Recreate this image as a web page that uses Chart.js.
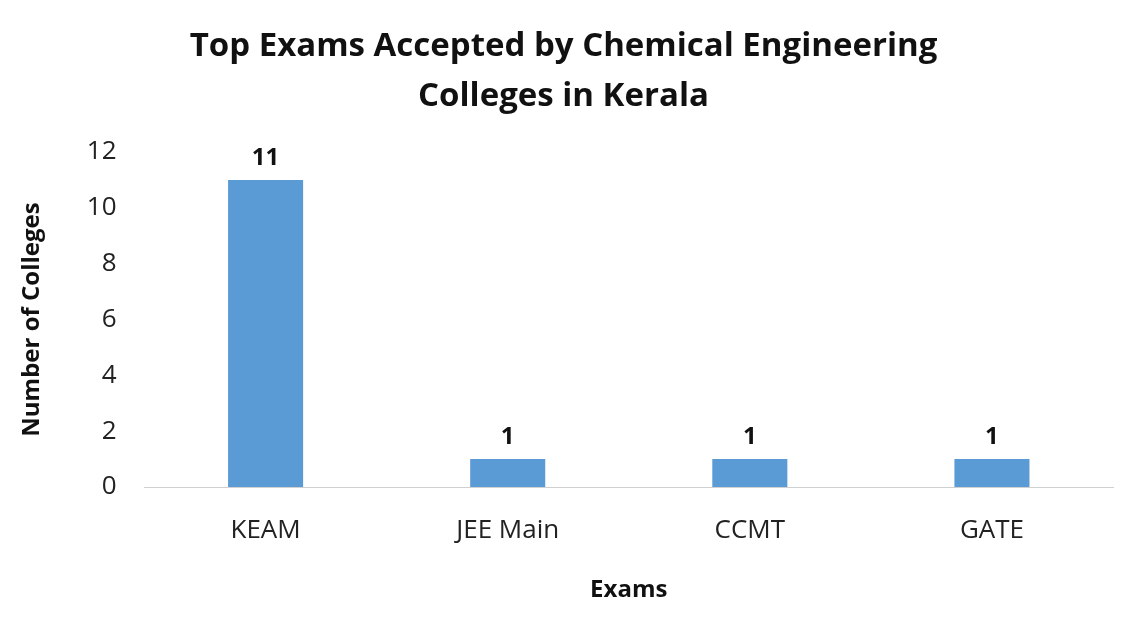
<!DOCTYPE html>
<html lang="en">
<head>
<meta charset="UTF-8">
<title>Top Exams Accepted by Chemical Engineering Colleges in Kerala</title>
<script src="https://cdn.jsdelivr.net/npm/chart.js"></script>
<style>
  body { margin: 0; background: #fff; }
  .wrap { width: 1135px; height: 621px; }
</style>
</head>
<body>
<div class="wrap"><canvas id="c"></canvas></div>
<script>
const exams = ["KEAM", "JEE Main", "CCMT", "GATE"];
const colleges = [11, 1, 1, 1];
const yTicks = [0, 2, 4, 6, 8, 10, 12];

const FONT = "'Open Sans', 'Liberation Sans', sans-serif";

// value labels above bars
const barLabels = {
  id: "barLabels",
  afterDatasetsDraw(chart) {
    const ctx = chart.ctx;
    ctx.save();
    ctx.font = "bold 24px " + FONT;
    ctx.fillStyle = "#111";
    ctx.textAlign = "center";
    ctx.textBaseline = "bottom";
    chart.getDatasetMeta(0).data.forEach((bar, i) => {
      ctx.fillText(colleges[i], bar.x, bar.y - 10);
    });
    ctx.restore();
  }
};

new Chart(document.getElementById("c"), {
  type: "bar",
  data: {
    labels: exams,
    datasets: [{
      data: colleges,
      backgroundColor: "#5b9bd5",
      barPercentage: 0.31,
      categoryPercentage: 1
    }]
  },
  options: {
    responsive: true,
    maintainAspectRatio: false,
    animation: false,
    layout: { padding: { top: 10, right: 22, left: 14, bottom: 12 } },
    plugins: {
      legend: { display: false },
      tooltip: { enabled: false },
      title: {
        display: true,
        text: ["Top Exams Accepted by Chemical Engineering", "Colleges in Kerala"],
        color: "#111",
        font: { family: FONT, size: 33, weight: "bold", lineHeight: 1.5 },
        padding: { top: 12, bottom: 31 }
      }
    },
    scales: {
      x: {
        grid: { display: false, drawTicks: false },
        border: { color: "#d0d0d0" },
        ticks: { color: "#222", font: { family: FONT, size: 26 }, padding: 28 },
        title: {
          display: true, text: "Exams", color: "#111",
          font: { family: FONT, size: 24, weight: "bold" }, padding: { top: 2 }
        }
      },
      y: {
        min: 0, max: 12,
        afterBuildTicks: axis => { axis.ticks = yTicks.map(v => ({ value: v })); },
        grid: { display: false, drawTicks: false },
        border: { display: false },
        ticks: { color: "#222", font: { family: FONT, size: 26 }, padding: 28 },
        title: {
          display: true, text: "Number of Colleges", color: "#111",
          font: { family: FONT, size: 24, weight: "bold" }, padding: { bottom: 12 }
        }
      }
    }
  },
  plugins: [barLabels]
});
</script>
</body>
</html>
